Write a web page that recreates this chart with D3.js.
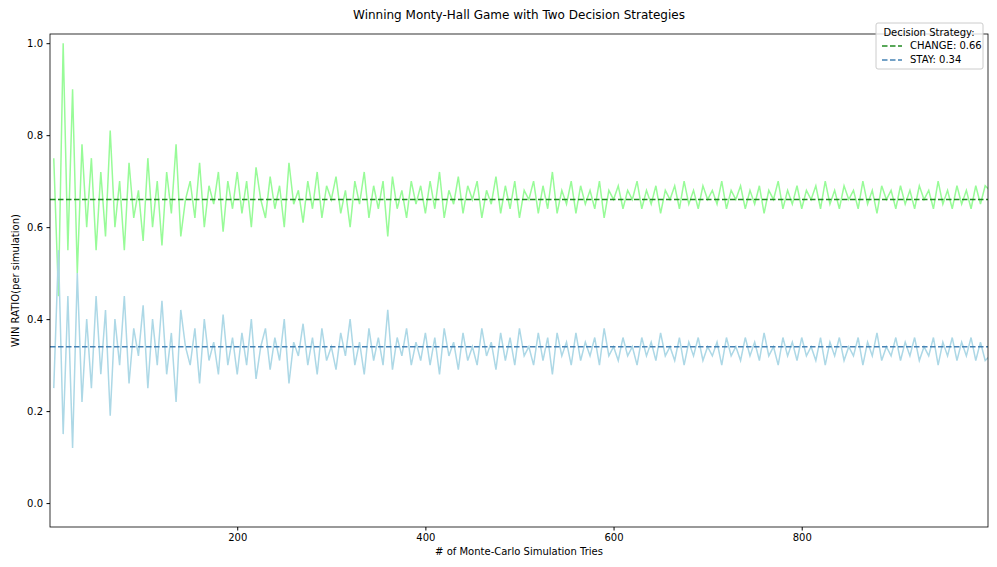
<!DOCTYPE html>
<html lang="en">
<head>
<meta charset="UTF-8">
<title>Winning Monty-Hall Game</title>
<script src="https://d3js.org/d3.v7.min.js"></script>
<style>
    body { margin: 0; background: #fff; font-family: "DejaVu Sans", sans-serif; }
    text { font-family: "DejaVu Sans", sans-serif; }
</style>
</head>
<body>
<svg width="997" height="567"></svg>
<script>
// sampled every 5 tries (x = 5, 10, ... 1000)
const changeWins = [
    0.75,0.45,1.0,0.55,0.9,0.5,0.78,0.6,0.75,0.55,
    0.72,0.58,0.81,0.6,0.70,0.55,0.74,0.62,0.68,0.57,
    0.75,0.6,0.70,0.56,0.72,0.63,0.78,0.58,0.66,0.70,0.62,0.74,0.60,0.69,0.65,0.72,0.59,0.70,0.64,0.72,
    0.63,0.70,0.60,0.73,0.66,0.62,0.71,0.64,0.69,0.60,0.74,0.65,0.68,0.61,0.70,0.64,0.72,0.62,0.69,0.66,
    0.71,0.63,0.68,0.60,0.70,0.65,0.72,0.62,0.69,0.64,0.70,0.58,0.71,0.64,0.68,0.62,0.70,0.65,0.69,0.63,
    0.70,0.64,0.72,0.62,0.68,0.65,0.71,0.63,0.69,0.66,0.70,0.62,0.68,0.65,0.71,0.63,0.69,0.64,0.70,0.62,
    0.68,0.66,0.70,0.63,0.69,0.64,0.72,0.63,0.68,0.65,0.70,0.63,0.69,0.65,0.68,0.64,0.70,0.62,0.68,0.66,
    0.69,0.64,0.68,0.66,0.70,0.64,0.68,0.65,0.69,0.63,0.68,0.66,0.69,0.64,0.70,0.65,0.68,0.64,0.69,0.66,
    0.68,0.65,0.70,0.64,0.68,0.66,0.69,0.64,0.68,0.65,0.69,0.63,0.68,0.66,0.70,0.64,0.68,0.65,0.69,0.64,
    0.68,0.66,0.69,0.64,0.70,0.65,0.68,0.64,0.69,0.66,0.68,0.64,0.70,0.65,0.68,0.63,0.69,0.66,0.68,0.64,
    0.69,0.65,0.68,0.64,0.69,0.66,0.68,0.64,0.70,0.65,0.68,0.64,0.69,0.65,0.68,0.64,0.69,0.65,0.69,0.68
];
const stayWins = [
    0.25,0.55,0.15,0.45,0.12,0.5,0.22,0.4,0.25,0.45,
    0.28,0.42,0.19,0.40,0.30,0.45,0.26,0.38,0.32,0.43,
    0.25,0.40,0.30,0.44,0.28,0.37,0.22,0.42,0.34,0.30,0.38,0.26,0.40,0.31,0.35,0.28,0.41,0.30,0.36,0.28,
    0.37,0.30,0.40,0.27,0.34,0.38,0.29,0.36,0.31,0.40,0.26,0.35,0.32,0.39,0.30,0.36,0.28,0.38,0.31,0.34,
    0.29,0.37,0.32,0.40,0.30,0.35,0.28,0.38,0.31,0.36,0.30,0.42,0.29,0.36,0.32,0.38,0.30,0.35,0.31,0.37,
    0.30,0.36,0.28,0.38,0.32,0.35,0.29,0.37,0.31,0.34,0.30,0.38,0.32,0.35,0.29,0.37,0.31,0.36,0.30,0.38,
    0.32,0.34,0.30,0.37,0.31,0.36,0.28,0.37,0.32,0.35,0.30,0.37,0.31,0.35,0.32,0.36,0.30,0.38,0.32,0.34,
    0.31,0.36,0.32,0.34,0.30,0.36,0.32,0.35,0.31,0.37,0.32,0.34,0.31,0.36,0.30,0.35,0.32,0.36,0.31,0.34,
    0.32,0.35,0.30,0.36,0.32,0.34,0.31,0.36,0.32,0.35,0.31,0.37,0.32,0.34,0.30,0.36,0.32,0.35,0.31,0.36,
    0.32,0.34,0.31,0.36,0.30,0.35,0.32,0.36,0.31,0.34,0.32,0.36,0.30,0.35,0.32,0.37,0.31,0.34,0.32,0.36,
    0.31,0.35,0.32,0.36,0.31,0.34,0.32,0.36,0.30,0.35,0.32,0.36,0.31,0.35,0.32,0.36,0.31,0.35,0.31,0.32
];
const changeMean = 0.66;
const stayMean = 0.34;
const xTicks = [200, 400, 600, 800];
const yTicks = [0.0, 0.2, 0.4, 0.6, 0.8, 1.0];

const margin = { top: 34, right: 9, bottom: 40, left: 50 };
const width = 997 - margin.left - margin.right;
const height = 567 - margin.top - margin.bottom;

const svg = d3.select("svg").append("g")
    .attr("transform", `translate(${margin.left},${margin.top})`);

const x = d3.scaleLinear().domain([1, 998]).range([0, width]);
const y = d3.scaleLinear().domain([-0.052, 1.02]).range([height, 0]);

const line = d3.line().x((d, i) => x((i + 1) * 5)).y(d => y(d));

svg.append("defs").append("clipPath").attr("id", "clip")
    .append("rect").attr("width", width).attr("height", height);

const plot = svg.append("g").attr("clip-path", "url(#clip)");
plot.append("path").datum(changeWins).attr("d", line)
    .attr("fill", "none").attr("stroke", "#98fb98").attr("stroke-width", 1.5);
plot.append("path").datum(stayWins).attr("d", line)
    .attr("fill", "none").attr("stroke", "#add8e6").attr("stroke-width", 1.5);

plot.append("line").attr("x1", 0).attr("x2", width)
    .attr("y1", y(changeMean)).attr("y2", y(changeMean))
    .attr("stroke", "#228b22").attr("stroke-width", 1.5).attr("stroke-dasharray", "5.5,2.5");
plot.append("line").attr("x1", 0).attr("x2", width)
    .attr("y1", y(stayMean)).attr("y2", y(stayMean))
    .attr("stroke", "#4682b4").attr("stroke-width", 1.5).attr("stroke-dasharray", "5.5,2.5");

svg.append("g").attr("transform", `translate(0,${height})`)
    .call(d3.axisBottom(x).tickValues(xTicks).tickSize(3.5).tickPadding(3.5))
    .call(g => g.selectAll("text").attr("font-size", 10).attr("fill", "#000"));
svg.append("g")
    .call(d3.axisLeft(y).tickValues(yTicks).tickFormat(d3.format(".1f")).tickSize(3.5).tickPadding(3.5))
    .call(g => g.selectAll("text").attr("font-size", 10).attr("fill", "#000"));
svg.selectAll(".domain").remove();
svg.append("rect").attr("width", width).attr("height", height)
    .attr("fill", "none").attr("stroke", "#000").attr("stroke-width", 0.8);

svg.append("text").attr("x", width / 2).attr("y", -15).attr("text-anchor", "middle")
    .attr("font-size", 12).text("Winning Monty-Hall Game with Two Decision Strategies");
svg.append("text").attr("x", width / 2).attr("y", height + 28).attr("text-anchor", "middle")
    .attr("font-size", 10).text("# of Monte-Carlo Simulation Tries");
svg.append("text").attr("transform", "rotate(-90)").attr("x", -height / 2).attr("y", -31)
    .attr("text-anchor", "middle").attr("font-size", 10).text("WIN RATIO(per simulation)");

const legend = svg.append("g").attr("transform", `translate(${width - 112},${-11})`);
legend.append("rect").attr("width", 107).attr("height", 46).attr("rx", 2)
    .attr("fill", "#fff").attr("fill-opacity", 0.8).attr("stroke", "#ccc");
legend.append("text").attr("x", 53).attr("y", 13).attr("text-anchor", "middle")
    .attr("font-size", 10).text("Decision Strategy:");
[["CHANGE: " + changeMean, "#228b22"], ["STAY: " + stayMean, "#4682b4"]].forEach((d, i) => {
    const yy = 26 + i * 14;
    legend.append("line").attr("x1", 6).attr("x2", 26).attr("y1", yy - 3).attr("y2", yy - 3)
        .attr("stroke", d[1]).attr("stroke-width", 1.5).attr("stroke-dasharray", "5.5,2.5");
    legend.append("text").attr("x", 34).attr("y", yy).attr("font-size", 10).text(d[0]);
});
</script>
</body>
</html>
